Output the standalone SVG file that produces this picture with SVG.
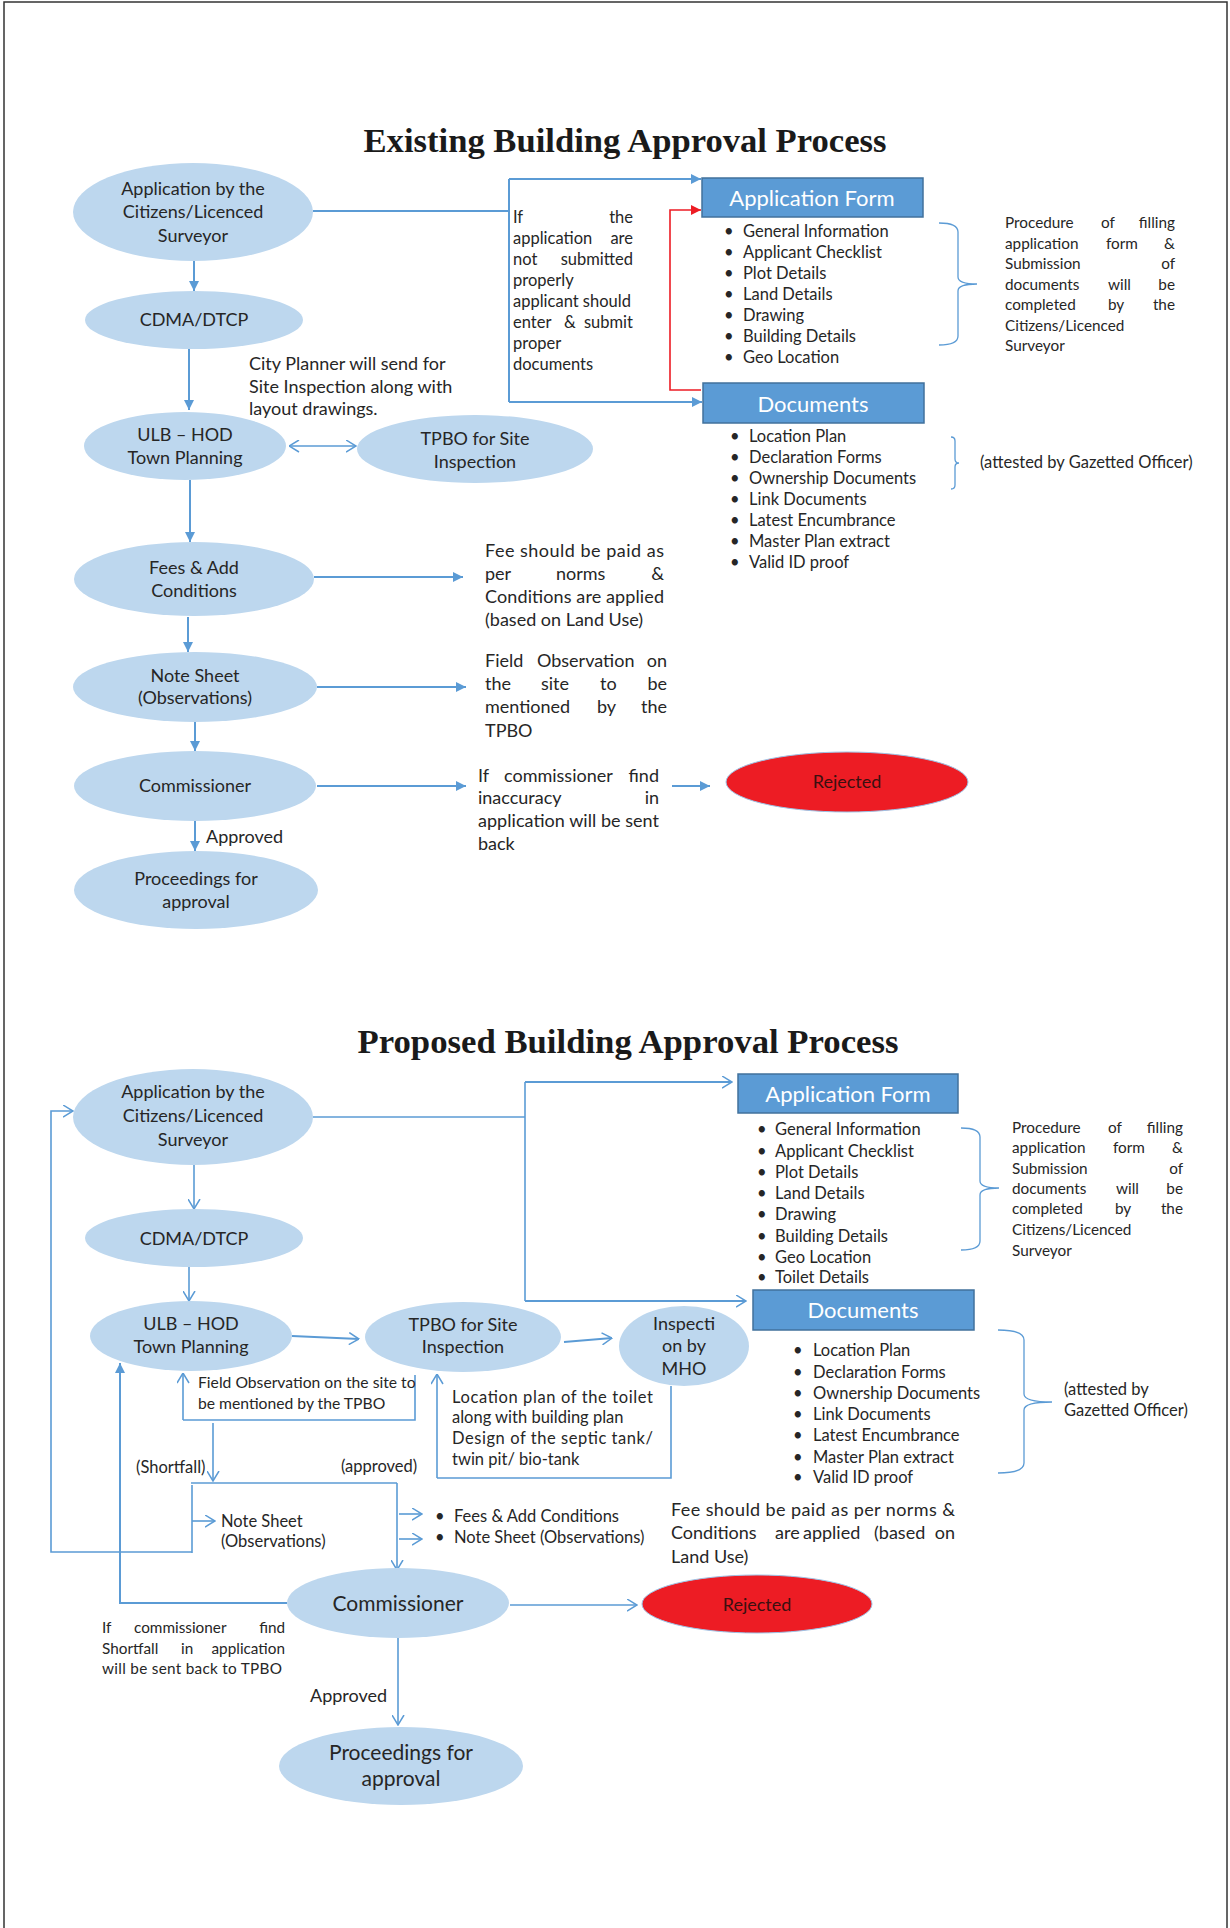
<svg xmlns="http://www.w3.org/2000/svg" width="1230" height="1928" viewBox="0 0 1230 1928">
<style>
text{font-family:"Lato","Carlito","Liberation Sans",sans-serif;fill:#262626}
.title{font-family:"Liberation Serif","DejaVu Serif",serif;font-weight:bold;font-size:33px;fill:#1a1a1a}
.n{font-size:18px;text-anchor:middle}
.nl{font-size:21px;text-anchor:middle}
.bx{font-size:22px;text-anchor:middle;fill:#ffffff}
.b{font-size:16.5px}
.s{font-size:15.3px}
.s2{font-size:15.7px}
.m{font-size:18px}
.e{text-anchor:end}
.ell{fill:#BDD7EE}
.rej{fill:#ED1C24;stroke:#9DC3E6;stroke-width:1}
.rejt{font-size:18px;text-anchor:middle;fill:#3a1010}
.box{fill:#5B9BD5;stroke:#41719C;stroke-width:1.5}
.c{fill:none;stroke:#5B9BD5;stroke-width:2}
.c1{fill:none;stroke:#5B9BD5;stroke-width:1.6}
.br{fill:none;stroke:#5B9BD5;stroke-width:1.3}
</style>
<defs>
<marker id="tri" viewBox="0 0 10 10" refX="10" refY="5" markerWidth="10" markerHeight="10" markerUnits="userSpaceOnUse" orient="auto"><path d="M0,0 L10,5 L0,10 z" fill="#5B9BD5"/></marker>
<marker id="trired" viewBox="0 0 10 10" refX="10" refY="5" markerWidth="10" markerHeight="10" markerUnits="userSpaceOnUse" orient="auto"><path d="M0,0 L10,5 L0,10 z" fill="#ED1C24"/></marker>
<marker id="opn" viewBox="0 0 11 13" refX="10.5" refY="6.5" markerWidth="11" markerHeight="13" markerUnits="userSpaceOnUse" orient="auto"><path d="M0.5,0.5 L10.5,6.5 L0.5,12.5" fill="none" stroke="#5B9BD5" stroke-width="1.5"/></marker>
<marker id="opns" viewBox="0 0 11 13" refX="0.5" refY="6.5" markerWidth="11" markerHeight="13" markerUnits="userSpaceOnUse" orient="auto"><path d="M10.5,0.5 L0.5,6.5 L10.5,12.5" fill="none" stroke="#5B9BD5" stroke-width="1.5"/></marker>
</defs>
<rect x="4" y="2" width="1223" height="1940" fill="#ffffff" stroke="#333333" stroke-width="1.5"/>

<!-- ================= EXISTING ================= -->
<text class="title" x="625" y="152" text-anchor="middle" textLength="523" lengthAdjust="spacingAndGlyphs">Existing Building Approval Process</text>

<g id="connectors-existing">
<line class="c" x1="313" y1="211" x2="509" y2="211" stroke-width="3"/>
<line class="c" x1="509" y1="179" x2="509" y2="402"/>
<line class="c" x1="509" y1="179" x2="701" y2="179" marker-end="url(#tri)"/>
<line class="c" x1="509" y1="402" x2="702" y2="402" marker-end="url(#tri)"/>
<path d="M701,390 L670,390 L670,210 L701,210" fill="none" stroke="#ED1C24" stroke-width="1.6" marker-end="url(#trired)"/>
<line class="c" x1="194" y1="261" x2="194" y2="291" marker-end="url(#tri)"/>
<line class="c" x1="189" y1="349" x2="189" y2="410" marker-end="url(#tri)"/>
<line class="c1" x1="289" y1="446" x2="356" y2="446" marker-start="url(#opns)" marker-end="url(#opn)"/>
<line class="c" x1="190" y1="480" x2="190" y2="542" marker-end="url(#tri)"/>
<line class="c" x1="314" y1="577" x2="463" y2="577" marker-end="url(#tri)"/>
<line class="c" x1="188" y1="617" x2="188" y2="652" marker-end="url(#tri)"/>
<line class="c" x1="317" y1="687" x2="466" y2="687" marker-end="url(#tri)"/>
<line class="c" x1="195" y1="722" x2="195" y2="751" marker-end="url(#tri)"/>
<line class="c" x1="317" y1="786" x2="466" y2="786" marker-end="url(#tri)"/>
<line class="c" x1="672" y1="786" x2="710" y2="786" marker-end="url(#tri)"/>
<line class="c" x1="195" y1="821" x2="195" y2="851" marker-end="url(#tri)"/>
</g>

<g id="e-app"><ellipse class="ell" cx="193" cy="212" rx="120" ry="49"/>
<text class="n" x="193" y="195">Application by the</text><text class="n" x="193" y="218">Citizens/Licenced</text><text class="n" x="193" y="242">Surveyor</text></g>
<g id="e-cdma"><ellipse class="ell" cx="194" cy="320" rx="109" ry="29"/><text class="n" x="194" y="326">CDMA/DTCP</text></g>
<g id="e-ulb"><ellipse class="ell" cx="185" cy="446" rx="101" ry="34"/><text class="n" x="185" y="441">ULB – HOD</text><text class="n" x="185" y="464">Town Planning</text></g>
<g id="e-tpbo"><ellipse class="ell" cx="475" cy="449" rx="118" ry="34"/><text class="n" x="475" y="445">TPBO for Site</text><text class="n" x="475" y="468">Inspection</text></g>
<g id="e-fees"><ellipse class="ell" cx="194" cy="579" rx="120" ry="37"/><text class="n" x="194" y="574">Fees &amp; Add</text><text class="n" x="194" y="597">Conditions</text></g>
<g id="e-note"><ellipse class="ell" cx="195" cy="687" rx="122" ry="35"/><text class="n" x="195" y="682">Note Sheet</text><text class="n" x="195" y="704">(Observations)</text></g>
<g id="e-comm"><ellipse class="ell" cx="195" cy="786" rx="121" ry="35"/><text class="n" x="195" y="792">Commissioner</text></g>
<g id="e-proc"><ellipse class="ell" cx="196" cy="890" rx="122" ry="39"/><text class="n" x="196" y="885">Proceedings for</text><text class="n" x="196" y="908">approval</text></g>
<g id="e-rej"><ellipse class="rej" cx="847" cy="782" rx="121" ry="30"/><text class="rejt" x="847" y="788">Rejected</text></g>

<g id="e-appform"><rect class="box" x="702" y="178" width="221" height="39"/><text class="bx" x="812" y="206">Application Form</text>
<g class="b"><text x="724" y="237">•</text><text x="743" y="237">General Information</text>
<text x="724" y="258">•</text><text x="743" y="258">Applicant Checklist</text>
<text x="724" y="279">•</text><text x="743" y="279">Plot Details</text>
<text x="724" y="300">•</text><text x="743" y="300">Land Details</text>
<text x="724" y="321">•</text><text x="743" y="321">Drawing</text>
<text x="724" y="342">•</text><text x="743" y="342">Building Details</text>
<text x="724" y="363">•</text><text x="743" y="363">Geo Location</text></g></g>
<g id="e-docs"><rect class="box" x="703" y="383" width="221" height="40"/><text class="bx" x="813" y="412">Documents</text>
<g class="b"><text x="730" y="442">•</text><text x="749" y="442">Location Plan</text>
<text x="730" y="463">•</text><text x="749" y="463">Declaration Forms</text>
<text x="730" y="484">•</text><text x="749" y="484">Ownership Documents</text>
<text x="730" y="505">•</text><text x="749" y="505">Link Documents</text>
<text x="730" y="526">•</text><text x="749" y="526">Latest Encumbrance</text>
<text x="730" y="547">•</text><text x="749" y="547">Master Plan extract</text>
<text x="730" y="568">•</text><text x="749" y="568">Valid ID proof</text></g></g>

<g id="e-notes">
<path class="br" d="M939,223 Q958,223 958,232 L958,277 Q958,284 977,284 Q958,284 958,291 L958,336 Q958,345 939,345"/>
<path class="br" d="M951,437 Q955,437 955,441 L955,459 Q955,463 959,463 Q955,463 955,467 L955,485 Q955,489 951,489"/>
<g class="b">
<text x="513" y="223">If</text><text class="e" x="633" y="223">the</text>
<text x="513" y="244">application</text><text class="e" x="633" y="244">are</text>
<text x="513" y="265">not</text><text class="e" x="633" y="265">submitted</text>
<text x="513" y="286">properly</text>
<text x="513" y="307">applicant should</text>
<text x="513" y="328">enter</text><text x="564" y="328">&amp;</text><text class="e" x="633" y="328">submit</text>
<text x="513" y="349">proper</text>
<text x="513" y="370">documents</text>
</g>
<g class="s">
<text x="1005" y="228">Procedure</text><text x="1101" y="228">of</text><text class="e" x="1175" y="228">filling</text>
<text x="1005" y="249">application</text><text x="1106" y="249">form</text><text class="e" x="1175" y="249">&amp;</text>
<text x="1005" y="269">Submission</text><text class="e" x="1175" y="269">of</text>
<text x="1005" y="290">documents</text><text x="1108" y="290">will</text><text class="e" x="1175" y="290">be</text>
<text x="1005" y="310">completed</text><text x="1108" y="310">by</text><text class="e" x="1175" y="310">the</text>
<text x="1005" y="331">Citizens/Licenced</text>
<text x="1005" y="351">Surveyor</text>
</g>
<text class="b" x="980" y="468">(attested by Gazetted Officer)</text>
<g class="m">
<text x="249" y="370">City Planner will send for</text>
<text x="249" y="393">Site Inspection along with</text>
<text x="249" y="415">layout drawings.</text>
<text x="485" y="557" textLength="179" lengthAdjust="spacing">Fee should be paid as</text>
<text x="485" y="580">per</text><text x="556" y="580">norms</text><text class="e" x="664" y="580">&amp;</text>
<text x="485" y="603" textLength="179" lengthAdjust="spacing">Conditions are applied</text>
<text x="485" y="626">(based on Land Use)</text>
<text x="485" y="667">Field</text><text x="537" y="667">Observation</text><text class="e" x="667" y="667">on</text>
<text x="485" y="690">the</text><text x="541" y="690">site</text><text x="600" y="690">to</text><text class="e" x="667" y="690">be</text>
<text x="485" y="713">mentioned</text><text x="597" y="713">by</text><text class="e" x="667" y="713">the</text>
<text x="485" y="737">TPBO</text>
<text x="478" y="782">If</text><text x="504" y="782">commissioner</text><text class="e" x="659" y="782">find</text>
<text x="478" y="804">inaccuracy</text><text class="e" x="659" y="804">in</text>
<text x="478" y="827" textLength="181" lengthAdjust="spacing">application will be sent</text>
<text x="478" y="850">back</text>
<text x="206" y="843">Approved</text>
</g>
</g>

<!-- ================= PROPOSED ================= -->
<text class="title" x="628" y="1053" text-anchor="middle" textLength="541" lengthAdjust="spacingAndGlyphs">Proposed Building Approval Process</text>

<g id="connectors-proposed">
<polyline class="c1" points="192,1552 51,1552 51,1111 73,1111" marker-end="url(#opn)"/>
<line class="c1" x1="313" y1="1117" x2="525" y2="1117"/>
<line class="c1" x1="525" y1="1082" x2="525" y2="1301"/>
<line class="c" x1="525" y1="1082" x2="732" y2="1082" marker-end="url(#opn)"/>
<line class="c" x1="525" y1="1301" x2="746" y2="1301" marker-end="url(#opn)"/>
<line class="c1" x1="194" y1="1165" x2="194" y2="1209" marker-end="url(#opn)"/>
<line class="c1" x1="189" y1="1267" x2="189" y2="1301" marker-end="url(#opn)"/>
<line class="c" x1="292" y1="1336" x2="359" y2="1339" marker-end="url(#opn)"/>
<line class="c" x1="564" y1="1342" x2="612" y2="1338" marker-end="url(#opn)"/>
<line class="c1" x1="183" y1="1420" x2="183" y2="1373" marker-end="url(#opn)"/>
<polyline class="c1" points="183,1420 415,1420 415,1375"/>
<line class="c1" x1="437" y1="1478" x2="437" y2="1374" marker-end="url(#opn)"/>
<polyline class="c1" points="437,1478 671,1478 671,1386"/>
<line class="c1" x1="213" y1="1423" x2="213" y2="1481" marker-end="url(#opn)"/>
<line class="c1" x1="191" y1="1483" x2="397" y2="1483"/>
<line class="c1" x1="397" y1="1483" x2="397" y2="1570" marker-end="url(#opn)"/>
<line class="c1" x1="192" y1="1485" x2="192" y2="1553"/>
<line class="c1" x1="192" y1="1521" x2="215" y2="1521" marker-end="url(#opn)"/>
<line class="c1" x1="399" y1="1514" x2="422" y2="1514" marker-end="url(#opn)"/>
<line class="c1" x1="399" y1="1539" x2="422" y2="1539" marker-end="url(#opn)"/>
<polyline class="c" points="287,1603 120,1603 120,1363" marker-end="url(#tri)"/>
<line class="c1" x1="510" y1="1605" x2="637" y2="1605" marker-end="url(#opn)"/>
<line class="c1" x1="398" y1="1638" x2="398" y2="1725" marker-end="url(#opn)"/>
</g>

<g id="p-app"><ellipse class="ell" cx="193" cy="1117" rx="120" ry="48"/>
<text class="n" x="193" y="1098">Application by the</text><text class="n" x="193" y="1122">Citizens/Licenced</text><text class="n" x="193" y="1146">Surveyor</text></g>
<g id="p-cdma"><ellipse class="ell" cx="194" cy="1238" rx="109" ry="29"/><text class="n" x="194" y="1245">CDMA/DTCP</text></g>
<g id="p-ulb"><ellipse class="ell" cx="191" cy="1336" rx="101" ry="35"/><text class="n" x="191" y="1330">ULB – HOD</text><text class="n" x="191" y="1353">Town Planning</text></g>
<g id="p-tpbo"><ellipse class="ell" cx="463" cy="1337" rx="98" ry="35"/><text class="n" x="463" y="1331">TPBO for Site</text><text class="n" x="463" y="1353">Inspection</text></g>
<g id="p-mho"><ellipse class="ell" cx="684" cy="1346" rx="65" ry="40"/><text class="n" x="684" y="1330">Inspecti</text><text class="n" x="684" y="1352">on by</text><text class="n" x="684" y="1375">MHO</text></g>
<g id="p-comm"><ellipse class="ell" cx="398" cy="1603" rx="111" ry="35"/><text class="nl" x="398" y="1611">Commissioner</text></g>
<g id="p-proc"><ellipse class="ell" cx="401" cy="1766" rx="122" ry="39"/><text class="nl" x="401" y="1760">Proceedings for</text><text class="nl" x="401" y="1786">approval</text></g>
<g id="p-rej"><ellipse class="rej" cx="757" cy="1604" rx="115" ry="29"/><text class="rejt" x="757" y="1611">Rejected</text></g>

<g id="p-appform"><rect class="box" x="738" y="1074" width="220" height="39"/><text class="bx" x="848" y="1102">Application Form</text>
<g class="b"><text x="757" y="1135">•</text><text x="775" y="1135">General Information</text>
<text x="757" y="1157">•</text><text x="775" y="1157">Applicant Checklist</text>
<text x="757" y="1178">•</text><text x="775" y="1178">Plot Details</text>
<text x="757" y="1199">•</text><text x="775" y="1199">Land Details</text>
<text x="757" y="1220">•</text><text x="775" y="1220">Drawing</text>
<text x="757" y="1242">•</text><text x="775" y="1242">Building Details</text>
<text x="757" y="1263">•</text><text x="775" y="1263">Geo Location</text>
<text x="757" y="1283">•</text><text x="775" y="1283">Toilet Details</text></g></g>
<g id="p-docs"><rect class="box" x="753" y="1290" width="221" height="40"/><text class="bx" x="863" y="1318">Documents</text>
<g class="b"><text x="793" y="1356">•</text><text x="813" y="1356">Location Plan</text>
<text x="793" y="1378">•</text><text x="813" y="1378">Declaration Forms</text>
<text x="793" y="1399">•</text><text x="813" y="1399">Ownership Documents</text>
<text x="793" y="1420">•</text><text x="813" y="1420">Link Documents</text>
<text x="793" y="1441">•</text><text x="813" y="1441">Latest Encumbrance</text>
<text x="793" y="1463">•</text><text x="813" y="1463">Master Plan extract</text>
<text x="793" y="1483">•</text><text x="813" y="1483">Valid ID proof</text></g></g>

<g id="p-notes">
<path class="br" d="M961,1128 Q980,1128 980,1137 L980,1181 Q980,1188 999,1188 Q980,1188 980,1195 L980,1241 Q980,1250 961,1250"/>
<path class="br" d="M998,1330 Q1024,1330 1024,1340 L1024,1394 Q1024,1402 1052,1402 Q1024,1402 1024,1410 L1024,1463 Q1024,1473 998,1473"/>
<g class="s">
<text x="1012" y="1133">Procedure</text><text x="1108" y="1133">of</text><text class="e" x="1183" y="1133">filling</text>
<text x="1012" y="1153">application</text><text x="1113" y="1153">form</text><text class="e" x="1183" y="1153">&amp;</text>
<text x="1012" y="1174">Submission</text><text class="e" x="1183" y="1174">of</text>
<text x="1012" y="1194">documents</text><text x="1116" y="1194">will</text><text class="e" x="1183" y="1194">be</text>
<text x="1012" y="1214">completed</text><text x="1115" y="1214">by</text><text class="e" x="1183" y="1214">the</text>
<text x="1012" y="1235">Citizens/Licenced</text>
<text x="1012" y="1256">Surveyor</text>
<text x="102" y="1633">If</text><text x="134" y="1633">commissioner</text><text class="e" x="285" y="1633">find</text>
<text x="102" y="1654">Shortfall</text><text x="181" y="1654">in</text><text class="e" x="285" y="1654">application</text>
<text x="102" y="1674" textLength="180" lengthAdjust="spacing">will be sent back to TPBO</text>
</g>
<g class="s2">
<text x="198" y="1388">Field Observation on the site to</text>
<text x="198" y="1409">be mentioned by the TPBO</text>
</g>
<g class="b">
<text x="1064" y="1395">(attested by</text>
<text x="1064" y="1416">Gazetted Officer)</text>
<text x="452" y="1403" textLength="201" lengthAdjust="spacing">Location plan of the toilet</text>
<text x="452" y="1423">along with building plan</text>
<text x="452" y="1444" textLength="201" lengthAdjust="spacing">Design of the septic tank/</text>
<text x="452" y="1465">twin pit/ bio-tank</text>
<text x="136" y="1473">(Shortfall)</text>
<text x="341" y="1472">(approved)</text>
<text x="221" y="1527">Note Sheet</text>
<text x="221" y="1547">(Observations)</text>
<text x="435" y="1522">•</text><text x="454" y="1522">Fees &amp; Add Conditions</text>
<text x="435" y="1543">•</text><text x="454" y="1543">Note Sheet (Observations)</text>
</g>
<g class="m">
<text x="671" y="1516" textLength="284" lengthAdjust="spacing">Fee should be paid as per norms &amp;</text>
<text x="671" y="1539">Conditions</text><text x="775" y="1539">are</text><text x="803" y="1539">applied</text><text x="874" y="1539">(based</text><text class="e" x="955" y="1539">on</text>
<text x="671" y="1563">Land Use)</text>
<text x="310" y="1702">Approved</text>
</g>
</g>
</svg>
